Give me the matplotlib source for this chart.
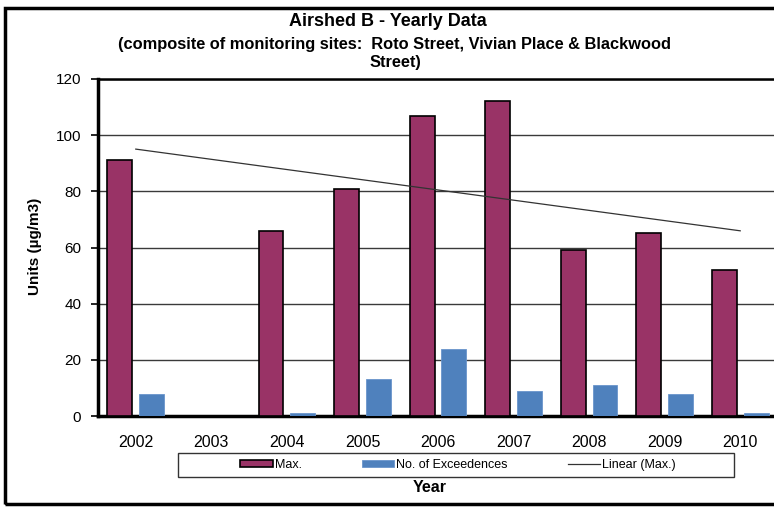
import numpy as np
import matplotlib
matplotlib.use("Agg")
import matplotlib.pyplot as plt
from matplotlib.patches import Rectangle

plt.rcParams['font.family'] = ['Liberation Sans', 'DejaVu Sans']

years = ["2002", "2003", "2004", "2005", "2006", "2007", "2008", "2009", "2010"]
max_vals = [91, np.nan, 66, 81, 107, 112, 59, 65, 52]
exceed_vals = [8, np.nan, 1, 13, 24, 9, 11, 8, 1]

purple = "#993366"
blue = "#4F81BD"

W, H = 774, 509
fig = plt.figure(figsize=(W / 100, H / 100), dpi=100)

# chart area border (right side runs off the picture)
fig.patches.append(Rectangle((5 / W, 1 - 504 / H), 790 / W, (504 - 8) / H,
                             transform=fig.transFigure, fill=False,
                             edgecolor="black", lw=2.5))

ax = fig.add_axes([98 / W, 1 - 416 / H, 680 / W, (416 - 79) / H])

x = np.arange(len(years))
bw = 0.33
b1 = ax.bar(x - 0.21, max_vals, bw, color=purple, edgecolor="black", lw=1.2,
            label="Max.", zorder=3)
b2 = ax.bar(x + 0.21, exceed_vals, bw, color=blue, edgecolor="#6A95CC", lw=0.6,
            label="No. of Exceedences", zorder=3)

# linear trendline on Max. (blank years skipped like Excel does)
mv = np.array(max_vals, dtype=float)
ok = ~np.isnan(mv)
slope, icpt = np.polyfit(x[ok] + 1, mv[ok], 1)
ln, = ax.plot(x, slope * (x + 1) + icpt, color="#333333", lw=0.9,
              label="Linear (Max.)", zorder=4)

ax.set_xlim(-0.5, 8.5)
ax.set_ylim(0, 120)
ax.set_yticks(range(0, 121, 20))
ax.set_xticks(x)
ax.set_xticklabels(years)
ax.tick_params(axis="x", length=0, pad=14, labelsize=11.5)
ax.tick_params(axis="y", length=5, width=1.2, pad=7, labelsize=11)
ax.yaxis.grid(True, color="#3a3a3a", lw=1, zorder=0)
ax.set_axisbelow(True)

ax.spines["left"].set_linewidth(2.5)
ax.spines["bottom"].set_linewidth(2.5)
ax.spines["top"].set_linewidth(1.8)
ax.spines["right"].set_visible(False)

fig.text(388 / W, 1 - 22 / H, "Airshed B - Yearly Data", ha="center",
         va="center", fontsize=13, fontweight="bold")
fig.text(395 / W, 1 - 44 / H,
         "(composite of monitoring sites:  Roto Street, Vivian Place & Blackwood",
         ha="center", va="center", fontsize=11.8, fontweight="bold")
fig.text(395 / W, 1 - 62 / H, "Street)", ha="center", va="center",
         fontsize=11.8, fontweight="bold")

fig.text(35 / W, 1 - 246 / H, "Units (µg/m3)", rotation=90, ha="center",
         va="center", fontsize=11, fontweight="bold")
fig.text(430 / W, 1 - 487 / H, "Year", ha="center", va="center",
         fontsize=11.5, fontweight="bold")

# legend box
fig.patches.append(Rectangle((178 / W, 1 - 477 / H), (734 - 178) / W, 24 / H,
                             transform=fig.transFigure, fill=False,
                             edgecolor="#333333", lw=1))
fig.legend(handles=[b1, b2, ln], loc="center",
           bbox_to_anchor=(458 / W, 1 - 465 / H), ncol=3,
           frameon=False, fontsize=9, handlelength=2.6, handleheight=0.5,
           handletextpad=0.15, columnspacing=4.8)

fig.savefig("out.png", dpi=100)
